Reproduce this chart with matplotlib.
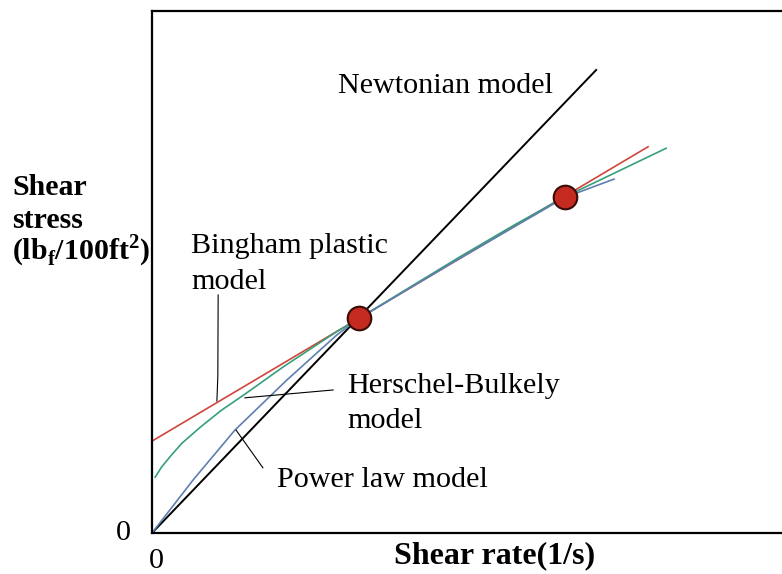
import matplotlib
matplotlib.use('Agg')
import matplotlib.pyplot as plt

plt.rcParams['font.family'] = 'Liberation Serif'
plt.rcParams['mathtext.fontset'] = 'custom'
plt.rcParams['mathtext.rm'] = 'Liberation Serif'
plt.rcParams['mathtext.bf'] = 'Liberation Serif:bold'

# values (arbitrary units: shear rate 0-200, stress 0-100)
newton_x = [0, 141]
newton_y = [0, 88.7]

bingham_x = [0, 157.5]
bingham_y = [17.6, 74.0]

hb_x = [1.0, 3.0, 5.7, 9.5, 15.2, 22.0, 29.5, 41.6, 58.7, 65.7, 80, 98, 115, 131.1, 163.2]
hb_y = [10.7, 12.6, 14.6, 17.2, 20.2, 23.5, 26.6, 31.8, 38.6, 41.1, 46.4, 53.0, 59.0, 64.4, 73.7]

power_x = [0, 13.1, 26.3, 42.8, 58.6, 65.7, 94.6, 131.1, 146.7]
power_y = [0, 10.2, 19.7, 29.3, 37.9, 41.1, 51.5, 64.3, 67.8]

dots_x = [65.7, 131.1]
dots_y = [41.1, 64.3]

W, H = 782, 574
fig = plt.figure(figsize=(W / 100, H / 100), dpi=100)
ax = fig.add_axes([152 / W, 1 - 533 / H, 1 - 152 / W, (533 - 11) / H])


def px(x, y):
    return x / W, 1 - y / H


ax.plot(newton_x, newton_y, color='black', lw=1.4)
ax.plot(bingham_x, bingham_y, color='#d0463c', lw=1.2)
ax.plot(hb_x, hb_y, color='#35a07a', lw=1.2, solid_joinstyle='round')
ax.plot(power_x, power_y, color='#5f7fb0', lw=1.2, solid_joinstyle='round')
ax.plot(dots_x, dots_y, 'o', ms=17, mfc='#c42a20', mec='#3a0c08', mew=1.5)

# leader lines
lead = dict(color='black', lw=0.8)
ax.plot([21.0, 20.9, 20.6], [45.6, 30.1, 25.3], **lead)
ax.plot([29.5, 57.5], [25.9, 27.4], **lead)
ax.plot([26.7, 35.2], [19.7, 12.5], **lead)

ax.set_xlim(0, 200)
ax.set_ylim(0, 100)
ax.set_xticks([])
ax.set_yticks([])
ax.spines['right'].set_visible(False)
for s in ['top', 'left', 'bottom']:
    ax.spines[s].set_linewidth(1.6)

fs = 21.7
fig.text(*px(338, 93), 'Newtonian model', fontsize=fs, va='baseline')
fig.text(*px(191, 253), 'Bingham plastic', fontsize=fs, va='baseline')
fig.text(*px(191, 289), 'model', fontsize=fs, va='baseline')
fig.text(*px(347, 393), 'Herschel-Bulkely', fontsize=fs, va='baseline')
fig.text(*px(347, 428), 'model', fontsize=fs, va='baseline')
fig.text(*px(277, 487), 'Power law model', fontsize=fs, va='baseline')

yfs = 21.5
fig.text(*px(12, 195), 'Shear', fontsize=yfs, fontweight='bold', va='baseline')
fig.text(*px(12, 228), 'stress', fontsize=yfs, fontweight='bold', va='baseline')
fig.text(*px(12, 260), r'(lb$_\mathbf{f}$/100ft$^\mathbf{2}$)', fontsize=yfs,
         fontweight='bold', va='baseline')
fig.text(*px(394, 563), 'Shear rate(1/s)', fontsize=23, fontweight='bold', va='baseline')

fig.text(*px(123, 540), '0', fontsize=fs, ha='center', va='baseline')
fig.text(*px(156, 568), '0', fontsize=fs, ha='center', va='baseline')

fig.savefig('out.png', dpi=100)
